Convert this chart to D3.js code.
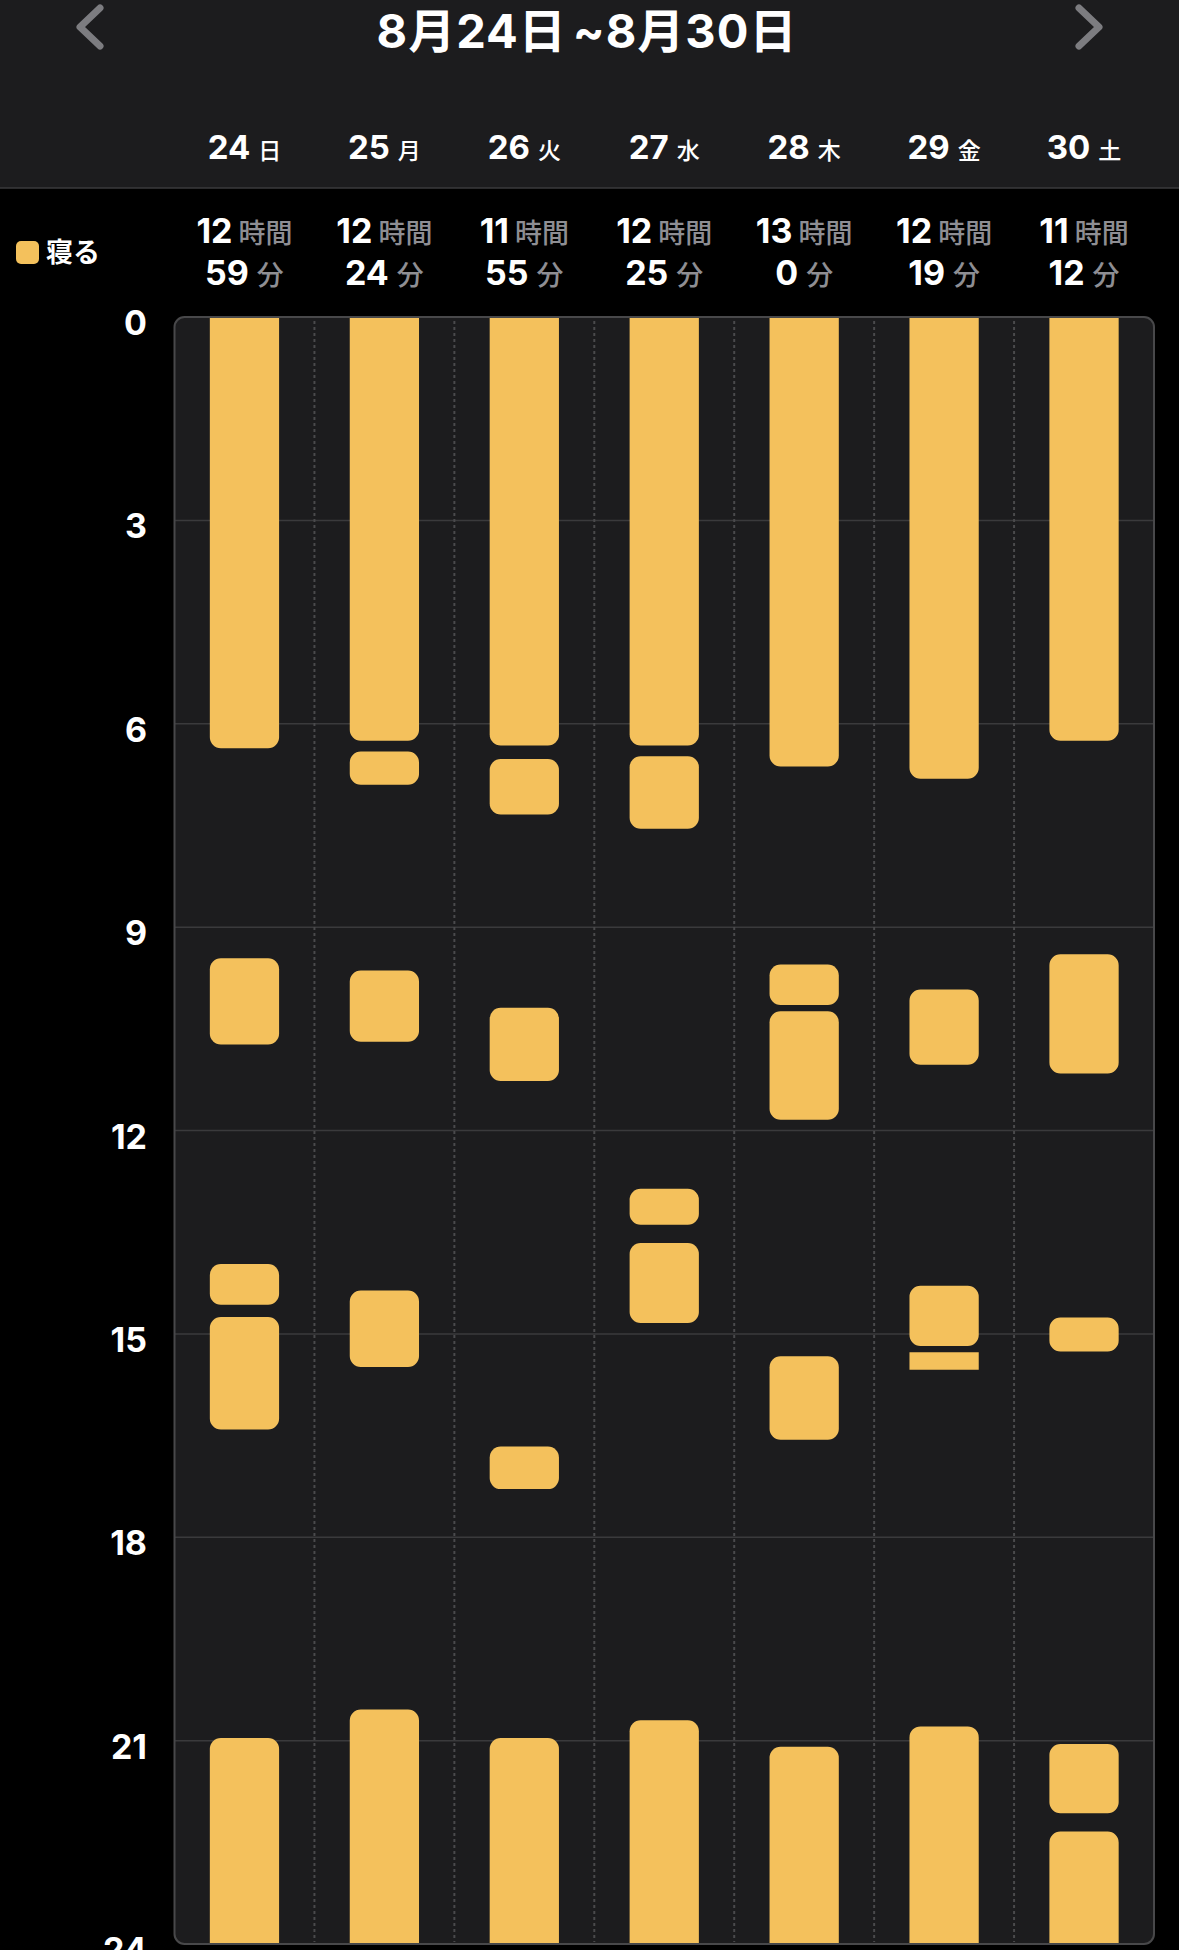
<!DOCTYPE html>
<html>
<head>
<meta charset="utf-8">
<script src="https://cdn.jsdelivr.net/npm/d3@7"></script>
<style>
  html, body { margin: 0; padding: 0; background: #000; }
  svg { display: block; }
</style>
</head>
<body>
<script>
// ---------- data ----------
const title = "8月24日~8月30日";
const dayNumbers = ["24", "25", "26", "27", "28", "29", "30"];
const weekdays = ["日", "月", "火", "水", "木", "金", "土"];
const durationHours = [12, 12, 11, 12, 13, 12, 11];
const durationMinutes = [59, 24, 55, 25, 0, 19, 12];
const yTicks = [0, 3, 6, 9, 12, 15, 18, 21, 24];
const legendLabel = "寝る";
const hourUnit = "時間";
const minuteUnit = "分";
// sleep segments per day: [start hour, end hour]
const sleep24 = [[0, 6.36], [9.46, 10.73], [13.97, 14.57], [14.75, 16.41], [20.96, 24]];
const sleep25 = [[0, 6.25], [6.41, 6.90], [9.64, 10.69], [14.36, 15.49], [20.54, 24]];
const sleep26 = [[0, 6.32], [6.52, 7.34], [10.19, 11.27], [16.66, 17.29], [20.96, 24]];
const sleep27 = [[0, 6.32], [6.48, 7.55], [12.86, 13.39], [13.66, 14.84], [20.70, 24]];
const sleep28 = [[0, 6.63], [9.55, 10.15], [10.24, 11.84], [15.33, 16.56], [21.09, 24]];
const sleep29 = [[0, 6.81], [9.92, 11.03], [14.29, 15.18], [15.27, 15.53], [20.79, 24]];
const sleep30 = [[0, 6.25], [9.40, 11.16], [14.76, 15.26], [21.05, 22.07], [22.34, 24]];
const sleepByDay = [sleep24, sleep25, sleep26, sleep27, sleep28, sleep29, sleep30];

// ---------- setup ----------
const W = 1179, H = 1950;
const barColor = "#f4c15c";
const grayText = "#8e8e93";
const latin = "Inter, 'Noto Sans CJK JP', sans-serif";
const cjk = "'Noto Sans CJK JP', sans-serif";

const svg = d3.select("body").append("svg").attr("width", W).attr("height", H);

// header background
svg.append("rect").attr("x", 0).attr("y", 0).attr("width", W).attr("height", 188).attr("fill", "#1c1c1e");
svg.append("line").attr("x1", 0).attr("x2", W).attr("y1", 188).attr("y2", 188)
  .attr("stroke", "#3a3a3c").attr("stroke-width", 1.5);

// chevrons
svg.append("path").attr("d", "M100,8 L80,27 L100,46").attr("fill", "none")
  .attr("stroke", "#7c7c80").attr("stroke-width", 7).attr("stroke-linecap", "round").attr("stroke-linejoin", "round");
svg.append("path").attr("d", "M1079,8 L1099,27 L1079,46").attr("fill", "none")
  .attr("stroke", "#7c7c80").attr("stroke-width", 7).attr("stroke-linecap", "round").attr("stroke-linejoin", "round");

// title
const titleParts = title.split("~");
const tt = svg.append("text").attr("x", 587).attr("y", 48).attr("text-anchor", "middle")
  .attr("fill", "#fff").style("font-family", latin).style("font-weight", 700).style("font-size", "47px")
  .style("letter-spacing", "1px");
tt.append("tspan").text(titleParts[0]);
tt.append("tspan").attr("dx", 6).text("~");
tt.append("tspan").text(titleParts[1]);

// scales
const x = d3.scaleBand().domain(dayNumbers).range([174.5, 1154]).paddingInner(0).paddingOuter(0);
const y = d3.scaleLinear().domain([0, 24]).range([317, 1944]);
const bw = x.bandwidth() * 0.495;

// day labels
const dayG = svg.append("g");
dayNumbers.forEach((d, i) => {
  const t = dayG.append("text").attr("x", x(d) + x.bandwidth() / 2).attr("y", 159)
    .attr("text-anchor", "middle").attr("fill", "#fff");
  t.append("tspan").style("font-family", latin).style("font-weight", 700).style("font-size", "33px").text(d);
  t.append("tspan").attr("dx", 8).style("font-family", cjk).style("font-weight", 500).style("font-size", "23px").text(weekdays[i]);
});

// legend
svg.append("rect").attr("x", 16).attr("y", 241).attr("width", 23).attr("height", 23).attr("rx", 5).attr("fill", barColor);
svg.append("text").attr("x", 46).attr("y", 262).attr("fill", "#fff")
  .style("font-family", cjk).style("font-weight", 700).style("font-size", "27px").text(legendLabel);

// duration labels
dayNumbers.forEach((d, i) => {
  const cx = x(d) + x.bandwidth() / 2;
  const t1 = svg.append("text").attr("x", cx).attr("y", 243).attr("text-anchor", "middle");
  t1.append("tspan").attr("fill", "#fff").style("font-family", latin).style("font-weight", 700).style("font-size", "34px").text(durationHours[i]);
  t1.append("tspan").attr("dx", 6).attr("fill", grayText).style("font-family", cjk).style("font-weight", 500).style("font-size", "27px").text(hourUnit);
  const t2 = svg.append("text").attr("x", cx).attr("y", 285).attr("text-anchor", "middle");
  t2.append("tspan").attr("fill", "#fff").style("font-family", latin).style("font-weight", 700).style("font-size", "34px").text(durationMinutes[i]);
  t2.append("tspan").attr("dx", 8).attr("fill", grayText).style("font-family", cjk).style("font-weight", 500).style("font-size", "27px").text(minuteUnit);
});

// panel
const px0 = x.range()[0], px1 = x.range()[1], py0 = y(0), py1 = y(24);
svg.append("rect").attr("x", px0).attr("y", py0).attr("width", px1 - px0).attr("height", py1 - py0)
  .attr("rx", 10).attr("fill", "#1c1c1e");

// horizontal gridlines
svg.append("g").selectAll("line").data(yTicks.filter(v => v > 0 && v < 24)).join("line")
  .attr("x1", px0).attr("x2", px1).attr("y1", d => y(d)).attr("y2", d => y(d))
  .attr("stroke", "#3a3a3c").attr("stroke-width", 1.5);

// vertical dotted separators
svg.append("g").selectAll("line").data(dayNumbers.slice(1)).join("line")
  .attr("x1", d => x(d)).attr("x2", d => x(d)).attr("y1", py0 + 4).attr("y2", py1 - 2)
  .attr("stroke", "#4a4a4c").attr("stroke-width", 2).attr("stroke-dasharray", "3,3");

// rounded rect path with selective corners
function roundedPath(x0, y0, w, h, rTop, rBot) {
  const x1 = x0 + w, y1 = y0 + h;
  return `M${x0},${y0 + rTop}` +
    (rTop ? `A${rTop},${rTop} 0 0 1 ${x0 + rTop},${y0}` : "") +
    `L${x1 - rTop},${y0}` +
    (rTop ? `A${rTop},${rTop} 0 0 1 ${x1},${y0 + rTop}` : "") +
    `L${x1},${y1 - rBot}` +
    (rBot ? `A${rBot},${rBot} 0 0 1 ${x1 - rBot},${y1}` : "") +
    `L${x0 + rBot},${y1}` +
    (rBot ? `A${rBot},${rBot} 0 0 1 ${x0},${y1 - rBot}` : "") + "Z";
}

// bars
const barsG = svg.append("g");
sleepByDay.forEach((segs, i) => {
  const cx = x(dayNumbers[i]) + x.bandwidth() / 2;
  barsG.selectAll(null).data(segs).join("path")
    .attr("fill", barColor)
    .attr("d", s => {
      const y0 = y(s[0]), y1 = y(s[1]), h = y1 - y0;
      const r = h < 20 ? 0 : Math.min(11, h / 2);
      const rTop = s[0] === 0 ? 0 : r;
      const rBot = s[1] === 24 ? 0 : r;
      return roundedPath(cx - bw / 2, y0, bw, h, rTop, rBot);
    });
});

// panel border
svg.append("rect").attr("x", px0).attr("y", py0).attr("width", px1 - px0).attr("height", py1 - py0)
  .attr("rx", 10).attr("fill", "none").attr("stroke", "#48484a").attr("stroke-width", 2);

// y axis labels
svg.append("g").selectAll("text").data(yTicks).join("text")
  .attr("x", 147).attr("y", d => y(d) + 18).attr("text-anchor", "end").attr("fill", "#fff")
  .style("font-family", latin).style("font-weight", 700).style("font-size", "34px")
  .text(d => d);
</script>
</body>
</html>
